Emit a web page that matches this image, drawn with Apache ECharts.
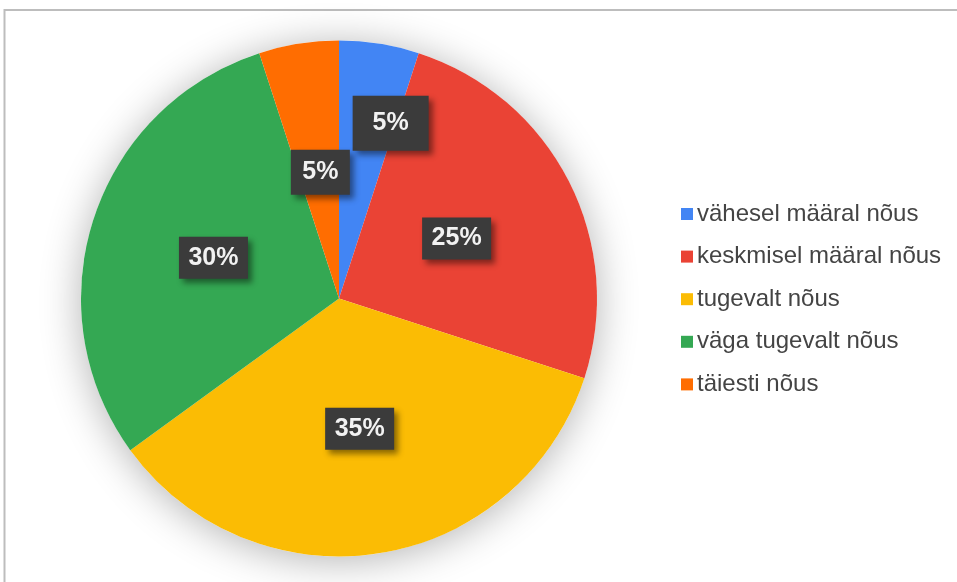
<!DOCTYPE html>
<html>
<head>
<meta charset="utf-8">
<script src="https://cdn.jsdelivr.net/npm/echarts@6/dist/echarts.min.js"></script>
<style>
  html, body { margin: 0; padding: 0; background: #ffffff; }
  #chart { width: 957px; height: 582px; }
</style>
</head>
<body>
<div id="chart"></div>
<script>
// Answer categories and their shares (percent)
const categories = ['vähesel määral nõus', 'keskmisel määral nõus', 'tugevalt nõus', 'väga tugevalt nõus', 'täiesti nõus'];
const shares = [5, 25, 35, 30, 5];
const colors = ['#4285F4', '#EA4335', '#FBBC04', '#34A853', '#FF6D01'];

// Label box sizes per slice
const boxSizes = [[76, 55], [69, 42], [69, 42], [69, 42], [59, 45]];
// Small nudges for the labels of the narrow slices
const labelNudges = [[31, -45], [0, 0], [0, 0], [0, 0], [2, 4]];

const chart = echarts.init(document.getElementById('chart'), null, { renderer: 'canvas' });

const total = shares.reduce((a, b) => a + b, 0);

const pieData = categories.map((name, i) => ({
  name: name,
  value: shares[i],
  itemStyle: { color: colors[i] },
  label: {
    width: boxSizes[i][0],
    height: boxSizes[i][1],
    lineHeight: boxSizes[i][1]
  }
}));

chart.setOption({
  animation: false,
  backgroundColor: '#ffffff',
  graphic: [{
    type: 'polyline',
    shape: { points: [[4.5, 582], [4.5, 10], [957, 10]] },
    style: { stroke: '#bdbdbd', lineWidth: 2, fill: null },
    silent: true
  }],
  legend: {
    orient: 'vertical',
    left: 681,
    top: 202,
    padding: 0,
    data: categories,
    icon: 'rect',
    itemWidth: 12,
    itemHeight: 12,
    itemGap: 18.6,
    textStyle: {
      fontFamily: 'Liberation Sans, Arial, sans-serif',
      fontSize: 24,
      color: '#444444',
      padding: [0, 0, 0, -1]
    },
    selectedMode: false
  },
  series: [
    {
      // soft shadow under the pie
      type: 'pie',
      silent: true,
      center: [339, 298.5],
      radius: 258,
      z: 1,
      label: { show: false },
      labelLine: { show: false },
      itemStyle: {
        color: '#ffffff',
        shadowBlur: 40,
        shadowColor: 'rgba(0,0,0,0.3)',
        shadowOffsetY: 4
      },
      data: [{ name: '', value: total }]
    },
    {
      type: 'pie',
      center: [339, 298.5],
      radius: 258,
      startAngle: 90,
      clockwise: true,
      z: 2,
      itemStyle: { borderWidth: 0 },
      label: {
        show: true,
        position: 'inside',
        formatter: p => p.value + '%',
        fontFamily: 'Liberation Sans, Arial, sans-serif',
        fontWeight: 'bold',
        fontSize: 25,
        color: '#f2f2f2',
        align: 'center',
        verticalAlign: 'middle',
        backgroundColor: '#3b3b3b',
        shadowColor: 'rgba(0,0,0,0.45)',
        shadowBlur: 6,
        shadowOffsetX: 4,
        shadowOffsetY: 4
      },
      labelLine: { show: false },
      labelLayout: function (params) {
        const n = labelNudges[params.dataIndex];
        return { dx: n[0], dy: n[1] };
      },
      data: pieData
    }
  ]
});
</script>
</body>
</html>
